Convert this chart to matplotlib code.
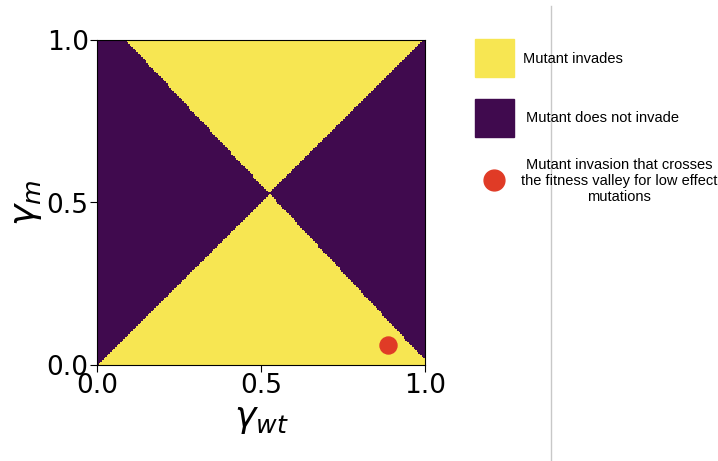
import numpy as np
import matplotlib.pyplot as plt
from matplotlib.colors import ListedColormap
from matplotlib.patches import Rectangle
from matplotlib.lines import Line2D

# boundary lines (gamma_wt, gamma_m end points)
diag_start = (0.0, 0.0)
diag_end = (1.0, 1.0)
anti_start = (0.085, 1.0)
anti_end = (1.0, 0.015)
grid_n = 200

# highlighted point
point_wt = [0.887]
point_m = [0.062]

tick_vals = [0.0, 0.5, 1.0]
tick_labels = ["0.0", "0.5", "1.0"]
legend_labels = ["Mutant invades", "Mutant does not invade",
                 "Mutant invasion that crosses\nthe fitness valley for low effect\nmutations"]

yellow = "#f7e652"
purple = "#400a4e"
red = "#e03b26"

# invasion map on a grid
g = (np.arange(grid_n) + 0.5) / grid_n
X, Y = np.meshgrid(g, g)
d1 = (Y - diag_start[1]) * (diag_end[0] - diag_start[0]) - (X - diag_start[0]) * (diag_end[1] - diag_start[1])
d2 = (Y - anti_start[1]) * (anti_end[0] - anti_start[0]) - (X - anti_start[0]) * (anti_end[1] - anti_start[1])
invades = ((d1 > 0) & (d2 > 0)) | ((d1 < 0) & (d2 < 0))

fig = plt.figure(figsize=(7.18, 4.61), dpi=100)
ax = fig.add_axes([97 / 718, 1 - 365 / 461, 328 / 718, 325 / 461])
ax.imshow(invades.astype(int), origin="lower", extent=[0, 1, 0, 1],
          cmap=ListedColormap([purple, yellow]), aspect="auto", interpolation="nearest")
ax.scatter(point_wt, point_m, s=150, color=red, zorder=3)
ax.set_xlim(0, 1)
ax.set_ylim(0, 1)
ax.set_xticks(tick_vals)
ax.set_xticklabels(tick_labels, fontsize=19)
ax.set_yticks(tick_vals)
ax.set_yticklabels(tick_labels, fontsize=19)
ax.tick_params(length=5, pad=1)
ax.set_xlabel(r"$\gamma_{wt}$", fontsize=26, labelpad=2)
ax.set_ylabel(r"$\gamma_m$", fontsize=26, labelpad=2)

# hand-made legend on the right
fs = 10.5
fam = "Liberation Sans"
fig.add_artist(Rectangle((475 / 718, 1 - 77 / 461), 39 / 718, 38 / 461, color=yellow, transform=fig.transFigure))
fig.add_artist(Rectangle((475 / 718, 1 - 137 / 461), 39 / 718, 38 / 461, color=purple, transform=fig.transFigure))
fig.add_artist(Line2D([494 / 718], [1 - 180 / 461], marker="o", markersize=15, color=red, transform=fig.transFigure))
fig.text(523 / 718, 1 - 59 / 461, legend_labels[0], fontsize=fs, family=fam, va="center")
fig.text(526 / 718, 1 - 118 / 461, legend_labels[1], fontsize=fs, family=fam, va="center")
fig.text(619 / 718, 1 - 181 / 461, legend_labels[2], fontsize=fs, family=fam, va="center", ha="center",
         linespacing=1.2)
fig.add_artist(Line2D([551 / 718, 551 / 718], [0, 1 - 6 / 461], color="#c8c8c8", lw=1, transform=fig.transFigure))

fig.savefig("out.png", dpi=100)
